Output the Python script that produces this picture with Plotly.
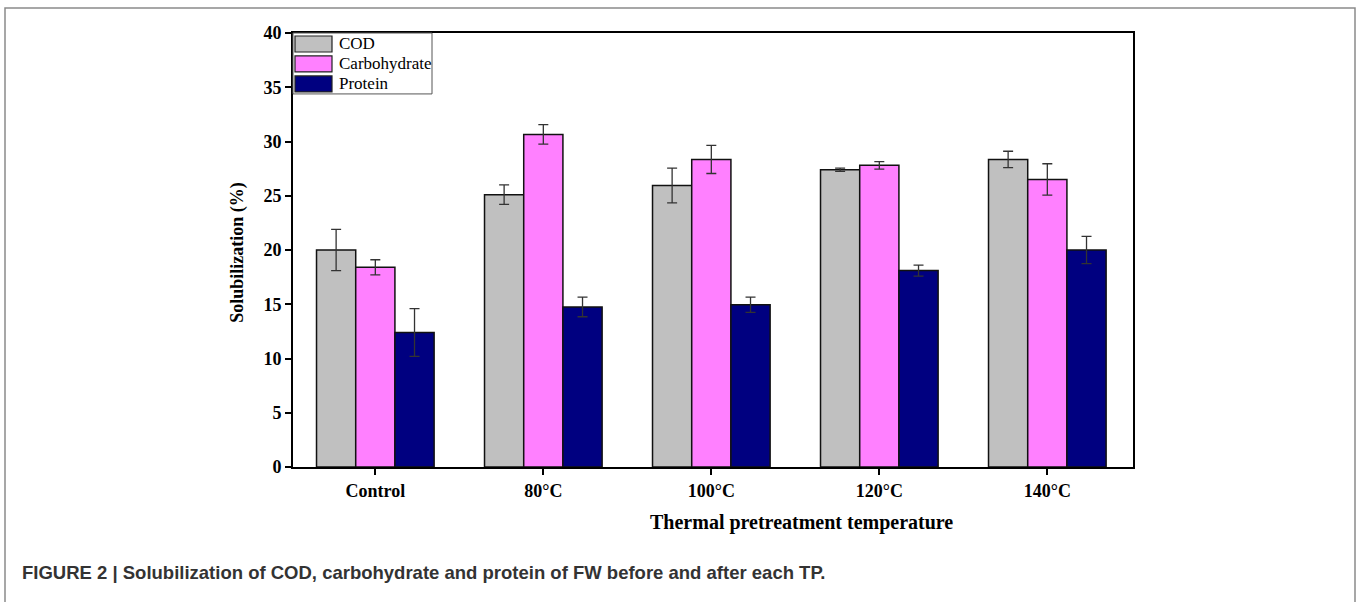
import plotly.graph_objects as go

categories = ["Control", "80°C", "100°C", "120°C", "140°C"]
series_names = ["COD", "Carbohydrate", "Protein"]
cod = [20.0, 25.1, 25.95, 27.4, 28.35]
cod_err = [1.9, 0.9, 1.6, 0.15, 0.75]
carbohydrate = [18.4, 30.65, 28.35, 27.8, 26.5]
carbohydrate_err = [0.7, 0.9, 1.3, 0.35, 1.45]
protein = [12.4, 14.75, 14.95, 18.1, 20.0]
protein_err = [2.2, 0.9, 0.7, 0.5, 1.25]
y_ticks = [0, 5, 10, 15, 20, 25, 30, 35, 40]

colors = ["#C0C0C0", "#FF80FF", "#000080"]
values = [cod, carbohydrate, protein]
errors = [cod_err, carbohydrate_err, protein_err]

W, H = 1357, 602
L, R, T, B = 293, 1133, 33, 467.5


def px(x):
    return (x - L) / (R - L)


def py(y):
    return (B - y) / (B - T)


serif = "Liberation Serif, Times New Roman, serif"

fig = go.Figure()
for name, vals, errs, col in zip(series_names, values, errors, colors):
    fig.add_trace(go.Bar(
        x=categories, y=vals, name=name,
        marker=dict(color=col, line=dict(color="#111111", width=1.5)),
        error_y=dict(type="data", array=errs, visible=True,
                     color="#333333", thickness=1.3, width=5),
        showlegend=False,
    ))

shapes = []
annotations = []

# outer figure frame
shapes.append(dict(type="rect", xref="paper", yref="paper",
                   x0=px(5), x1=px(1355), y0=py(8), y1=py(640),
                   line=dict(color="#8a8a8a", width=1.5), fillcolor="rgba(0,0,0,0)",
                   layer="below"))

# custom legend
shapes.append(dict(type="rect", xref="paper", yref="paper",
                   x0=px(293), x1=px(432), y0=py(33), y1=py(94),
                   line=dict(color="#555555", width=1), fillcolor="white"))
sw_top = [36, 56, 76]
for i, (name, col) in enumerate(zip(series_names, colors)):
    shapes.append(dict(type="rect", xref="paper", yref="paper",
                       x0=px(295), x1=px(332), y0=py(sw_top[i]), y1=py(sw_top[i] + 16),
                       line=dict(color="#222222", width=1.2), fillcolor=col))
    annotations.append(dict(xref="paper", yref="paper", x=px(337), y=py(sw_top[i] + 8),
                            text=name, showarrow=False, xanchor="left", yanchor="middle",
                            font=dict(family=serif, size=17, color="black")))

# axis titles
annotations.append(dict(xref="paper", yref="paper", x=px(801), y=py(523),
                        text="<b>Thermal pretreatment temperature</b>", showarrow=False,
                        xanchor="center", yanchor="middle",
                        font=dict(family=serif, size=20, color="black")))
annotations.append(dict(xref="paper", yref="paper", x=px(238), y=py(253),
                        text="<b>Solubilization (%)</b>", showarrow=False, textangle=-90,
                        xanchor="center", yanchor="middle",
                        font=dict(family=serif, size=18, color="black")))

# caption
annotations.append(dict(xref="paper", yref="paper", x=px(20), y=py(573),
                        text="<b>FIGURE 2 | Solubilization of COD, carbohydrate and protein of FW before and after each TP.</b>",
                        showarrow=False, xanchor="left", yanchor="middle",
                        font=dict(family="Liberation Sans, Arial, sans-serif", size=18.5, color="#333333")))

tickfont = dict(family=serif, size=18, color="black", weight="bold")

fig.update_layout(
    width=W, height=H,
    margin=dict(l=L, r=W - R, t=T, b=H - B, pad=0),
    paper_bgcolor="white", plot_bgcolor="white",
    barmode="group", bargap=0.30, bargroupgap=0,
    shapes=shapes, annotations=annotations,
    xaxis=dict(range=[-0.49, 4.51], showline=True, linecolor="black", linewidth=2,
               mirror=True, ticks="outside", ticklen=6, tickwidth=1.5, tickcolor="black",
               showgrid=False, zeroline=False, tickfont=tickfont),
    yaxis=dict(range=[0, 40], tickvals=y_ticks, showline=True, linecolor="black", linewidth=2,
               mirror=True, ticks="outside", ticklen=6, tickwidth=1.5, tickcolor="black",
               showgrid=False, zeroline=False, tickfont=tickfont),
)

fig.write_html("out.html", config={"displayModeBar": False},
               post_script="document.body.style.margin='0';")
